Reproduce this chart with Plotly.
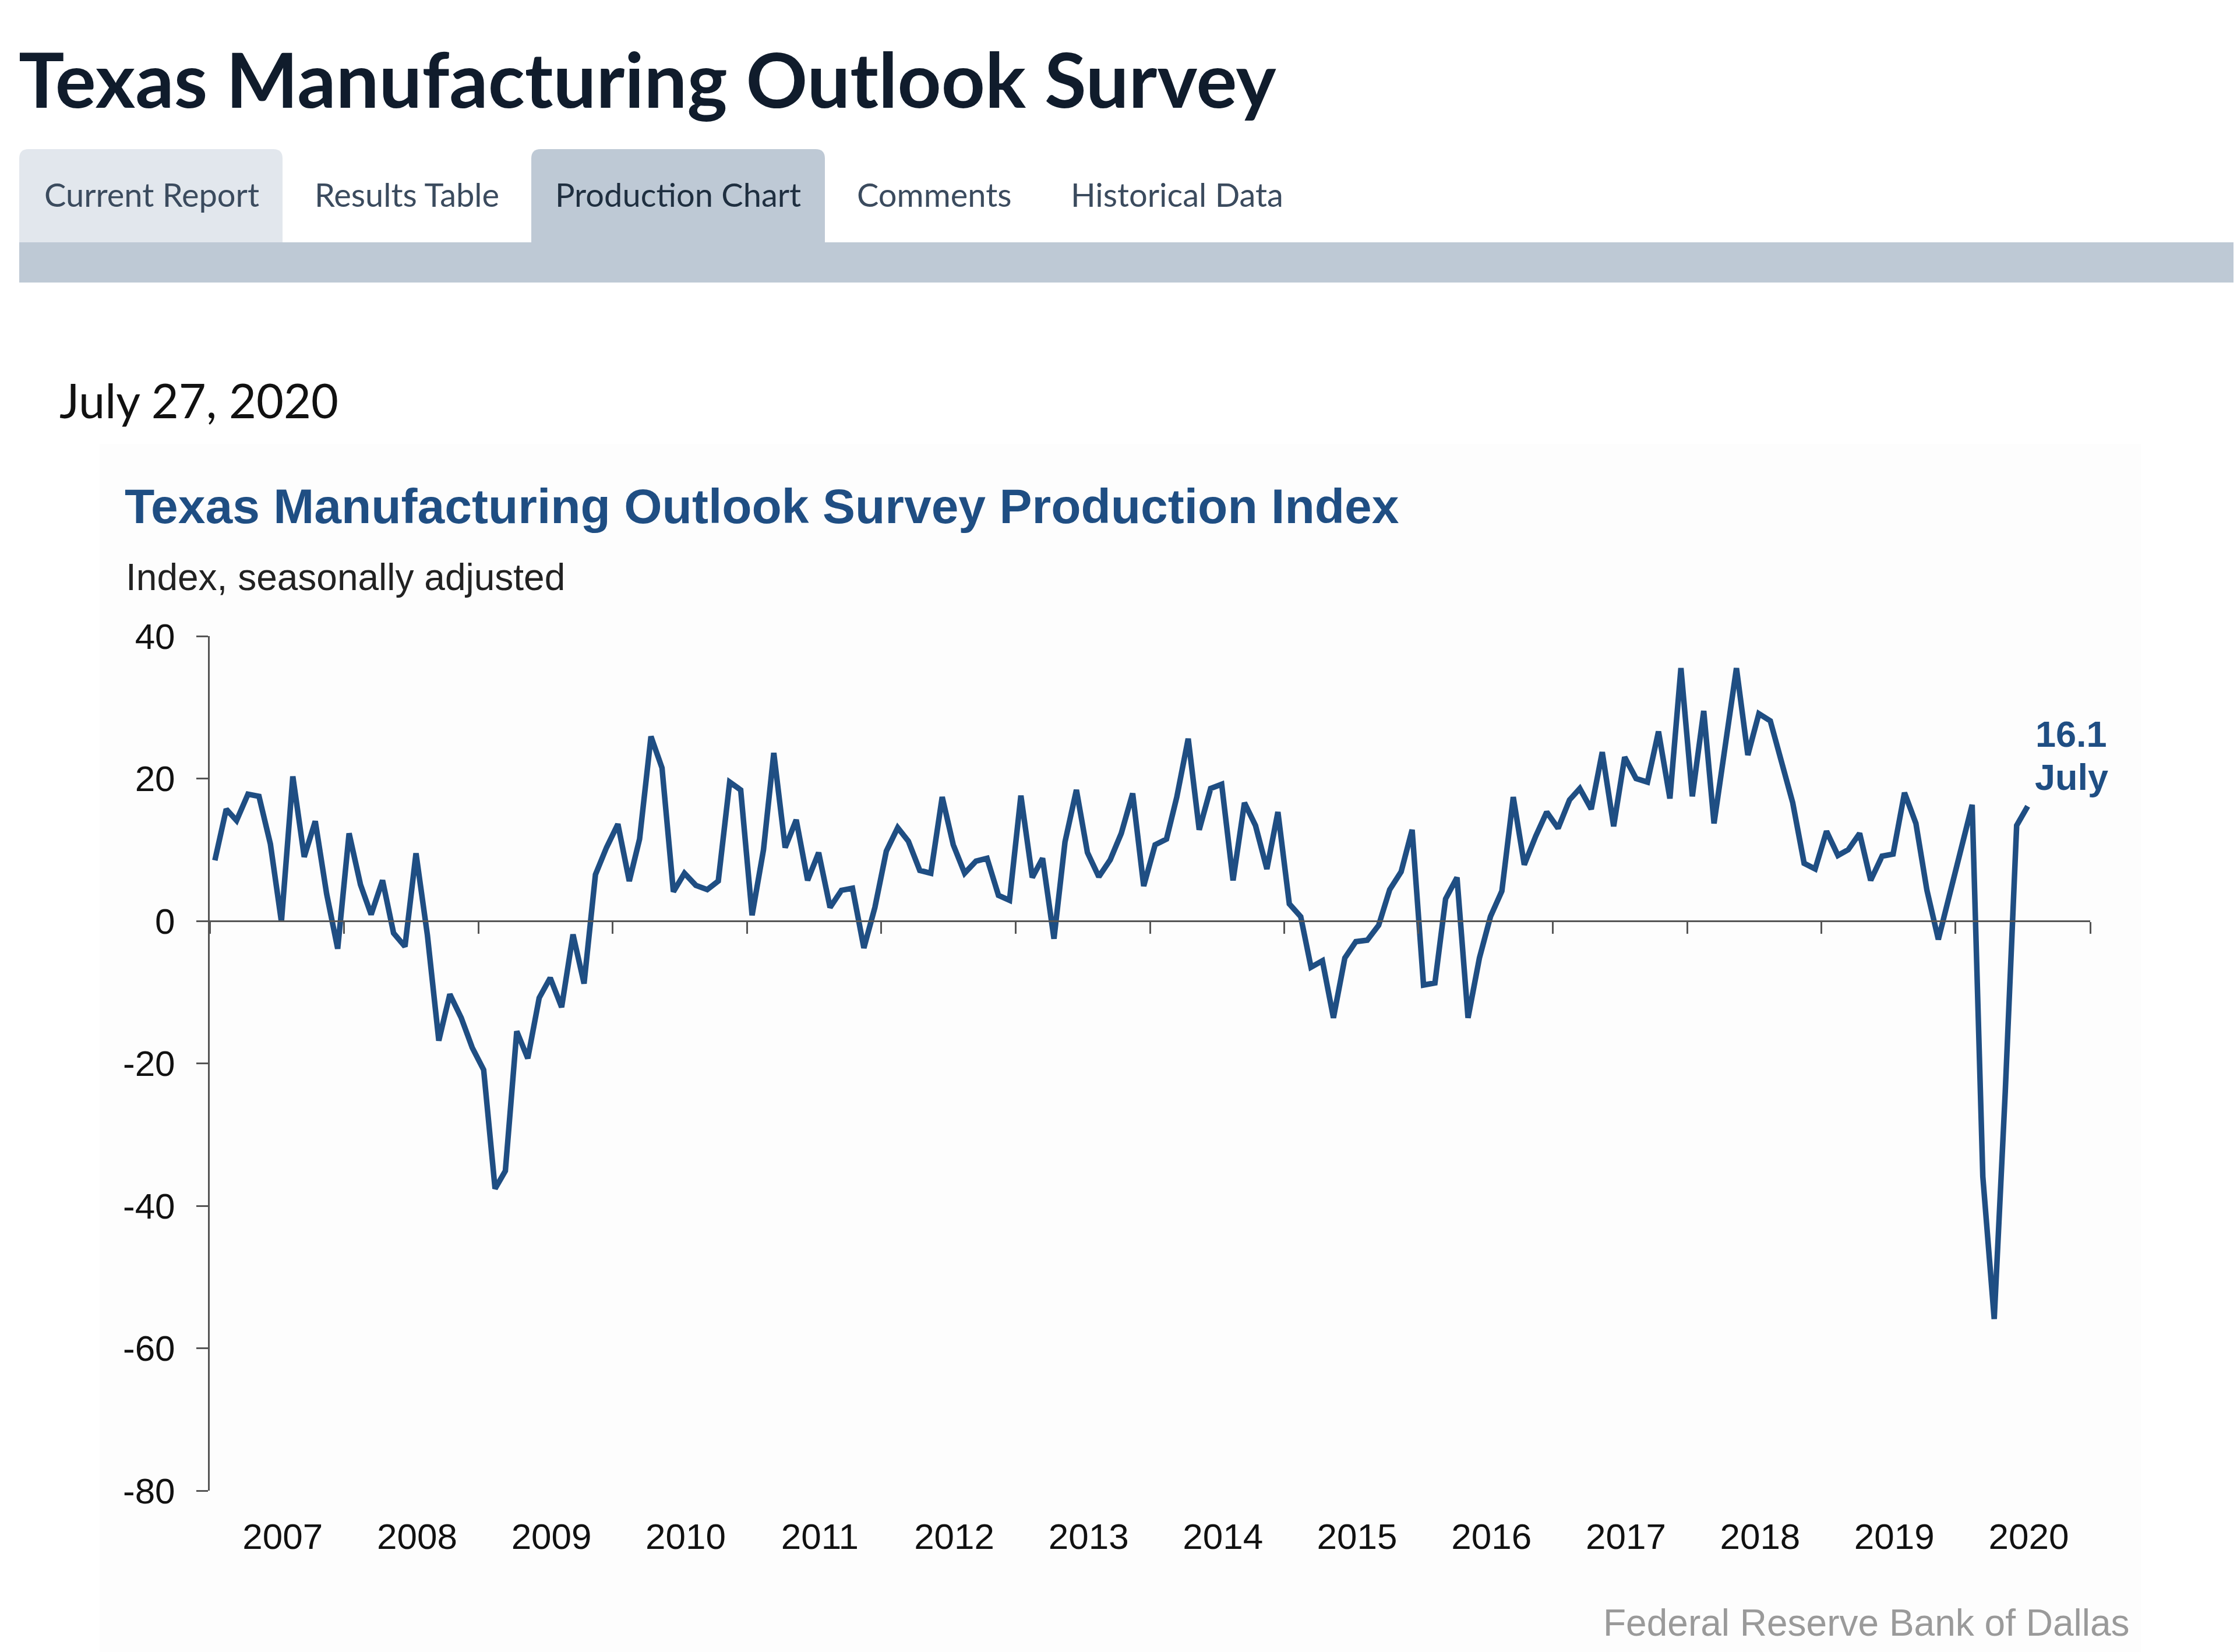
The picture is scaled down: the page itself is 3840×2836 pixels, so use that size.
import pandas as pd
import plotly.graph_objects as go

# ---------------- data ----------------
START_MONTH = "2007-01-01"
END_MONTH = "2020-07-01"

prod_2007 = [8.5, 15.7, 14.1, 17.8, 17.5, 10.8, -0.1, 20.3, 9.0, 14.0, 3.8, -3.9]
prod_2008 = [12.3, 5.1, 0.9, 5.7, -1.7, -3.6, 9.5, -2.0, -16.8, -10.3, -13.6, -17.8]
prod_2009 = [-20.9, -37.6, -35.1, -15.5, -19.3, -10.8, -8.0, -12.1, -1.9, -8.8, 6.5, 10.3]
prod_2010 = [13.6, 5.6, 11.5, 25.9, 21.5, 4.1, 6.7, 5.0, 4.4, 5.6, 19.5, 18.4]
prod_2011 = [0.8, 10.0, 23.6, 10.3, 14.2, 5.7, 9.6, 1.9, 4.3, 4.6, -3.8, 1.9]
prod_2012 = [9.8, 13.1, 11.2, 7.1, 6.7, 17.4, 10.7, 6.7, 8.4, 8.8, 3.6, 2.9]
prod_2013 = [17.6, 6.1, 8.8, -2.5, 11.1, 18.4, 9.6, 6.2, 8.6, 12.3, 17.9, 4.9]
prod_2014 = [10.7, 11.5, 17.4, 25.6, 12.8, 18.6, 19.2, 5.7, 16.6, 13.4, 7.3, 15.3]
prod_2015 = [2.4, 0.6, -6.5, -5.6, -13.6, -5.2, -2.9, -2.7, -0.6, 4.4, 6.9, 12.8]
prod_2016 = [-9.0, -8.7, 3.1, 6.1, -13.6, -5.2, 0.6, 4.2, 17.4, 7.9, 11.9, 15.3]
prod_2017 = [13.0, 17.0, 18.6, 15.7, 23.7, 13.3, 23.0, 20.0, 19.5, 26.6, 17.2, 35.5]
prod_2018 = [17.5, 29.5, 13.7, 25.0, 35.5, 23.3, 29.1, 28.1, 22.6, 16.6, 8.1, 7.3]
prod_2019 = [12.6, 9.2, 10.0, 12.3, 5.7, 9.1, 9.4, 18.0, 13.7, 4.3, -2.6, 3.5]
prod_2020 = [10.5, 16.3, -35.9, -55.9, -24.0, 13.4, 16.1]

y_tickvals = [40, 20, 0, -20, -40, -60, -80]
tab_labels = ["Current Report", "Results Table", "Production Chart", "Comments", "Historical Data"]

page_title = "Texas Manufacturing Outlook Survey"
report_date = "July 27, 2020"
chart_title = "Texas Manufacturing Outlook Survey Production Index"
chart_subtitle = "Index, seasonally adjusted"
last_label_value = "16.1"
last_label_month = "July"
source_note = "Federal Reserve Bank of Dallas"

values = (prod_2007 + prod_2008 + prod_2009 + prod_2010 + prod_2011 + prod_2012 +
          prod_2013 + prod_2014 + prod_2015 + prod_2016 + prod_2017 + prod_2018 +
          prod_2019 + prod_2020)
dates = pd.date_range(START_MONTH, END_MONTH, freq="MS") + pd.Timedelta(days=14)

# ---------------- layout geometry (pixels) ----------------
W, H = 3840, 2836
L, R, T, B = 360, 3588, 1092, 2559
PW, PH = R - L, B - T

def X(px):
    return (px - L) / PW

def Y(py):
    return (B - py) / PH

NAVY = "#1f4e83"
AXIS = "#555555"
LATO = "Lato, 'Open Sans', sans-serif"
ARIAL = "Arial, 'Liberation Sans', sans-serif"

fig = go.Figure()

fig.add_trace(go.Scatter(
    x=dates, y=values, mode="lines",
    line=dict(color=NAVY, width=9.5),
    hoverinfo="skip", showlegend=False,
))
# invisible companion trace to host the zero-crossing axis with its tick marks
fig.add_trace(go.Scatter(
    x=dates, y=values, mode="lines", xaxis="x2",
    line=dict(color="rgba(0,0,0,0)", width=0),
    hoverinfo="skip", showlegend=False,
))

shapes = []

def tab_path(x0, x1, y0, y1, r):
    return (f"M {X(x0)},{Y(y1)} L {X(x0)},{Y(y0 + r)} "
            f"Q {X(x0)},{Y(y0)} {X(x0 + r)},{Y(y0)} "
            f"L {X(x1 - r)},{Y(y0)} Q {X(x1)},{Y(y0)} {X(x1)},{Y(y0 + r)} "
            f"L {X(x1)},{Y(y1)} Z")

# chart panel background
shapes.append(dict(type="rect", xref="paper", yref="paper", layer="below",
                   x0=X(171), x1=X(3675), y0=Y(2836), y1=Y(762),
                   fillcolor="#fdfdfd", line=dict(width=0)))
# tabs
shapes.append(dict(type="path", xref="paper", yref="paper", layer="below",
                   path=tab_path(33, 485, 256, 418, 16),
                   fillcolor="#e2e7ed", line=dict(width=0)))
shapes.append(dict(type="path", xref="paper", yref="paper", layer="below",
                   path=tab_path(912, 1416, 256, 420, 16),
                   fillcolor="#bec9d5", line=dict(width=0)))
# bar under tabs
shapes.append(dict(type="rect", xref="paper", yref="paper", layer="below",
                   x0=X(33), x1=X(3834), y0=Y(485), y1=Y(416),
                   fillcolor="#bec9d5", line=dict(width=0)))

annotations = []

def txt(text, x, y, size, color, family, xanchor="left", bold=False):
    t = f"<b>{text}</b>" if bold else text
    annotations.append(dict(text=t, xref="paper", yref="paper", x=X(x), y=Y(y),
                            xanchor=xanchor, yanchor="middle", showarrow=False,
                            font=dict(size=size, color=color, family=family)))

txt(page_title, 30, 135, 131, "#101c2c", LATO, bold=True)
tab_centers = [260, 698, 1164, 1603, 2020]
for lab, cx in zip(tab_labels, tab_centers):
    col = "#1f2f40" if lab == "Production Chart" else "#3b4b5e"
    txt(lab, cx, 333, 56, col, LATO, xanchor="center")
txt(report_date, 100, 686, 81, "#111111", LATO)
txt(chart_title, 212, 869, 84, NAVY, ARIAL, bold=True)
txt(chart_subtitle, 214, 991, 64, "#222222", ARIAL)
txt(source_note, 3658, 2786, 64, "#9a9a9a", ARIAL, xanchor="right")

# end-of-series label anchored to the last data point
annotations.append(dict(text=f"<b>{last_label_value}</b>", x=dates[-1], y=values[-1],
                        xref="x", yref="y", showarrow=False, xanchor="center",
                        yanchor="middle", xshift=75, yshift=124,
                        font=dict(size=63, color=NAVY, family=ARIAL)))
annotations.append(dict(text=f"<b>{last_label_month}</b>", x=dates[-1], y=values[-1],
                        xref="x", yref="y", showarrow=False, xanchor="center",
                        yanchor="middle", xshift=75, yshift=50,
                        font=dict(size=63, color=NAVY, family=ARIAL)))

fig.update_layout(
    width=W, height=H,
    margin=dict(l=L, r=W - R, t=T, b=H - B, pad=0),
    paper_bgcolor="white", plot_bgcolor="rgba(0,0,0,0)",
    showlegend=False,
    shapes=shapes, annotations=annotations,
    xaxis=dict(
        type="date", range=["2007-01-01", "2021-01-01"],
        tick0="2007-01-01", dtick="M12", tickformat="%Y",
        ticklabelmode="period", showgrid=False, zeroline=False,
        showline=False, ticks="", ticklabelstandoff=37, ticklabelshift=10,
        tickfont=dict(size=62, color="#111111", family=ARIAL),
    ),
    xaxis2=dict(
        type="date", matches="x", overlaying="x", anchor="free",
        position=80 / 120, showgrid=False, zeroline=False,
        showline=True, linecolor=AXIS, linewidth=3,
        ticks="outside", ticklen=20, tickwidth=3, tickcolor=AXIS,
        tick0="2007-01-01", dtick="M12", showticklabels=False,
    ),
    yaxis=dict(
        range=[-80, 40], tickvals=y_tickvals, ticktext=[str(v) for v in y_tickvals],
        showgrid=False, zeroline=False,
        showline=True, linecolor=AXIS, linewidth=3,
        ticks="outside", ticklen=20, tickwidth=3, tickcolor=AXIS,
        ticklabelstandoff=24,
        tickfont=dict(size=62, color="#111111", family=ARIAL),
    ),
)

fig.write_html("out.html", config={"displayModeBar": False})
